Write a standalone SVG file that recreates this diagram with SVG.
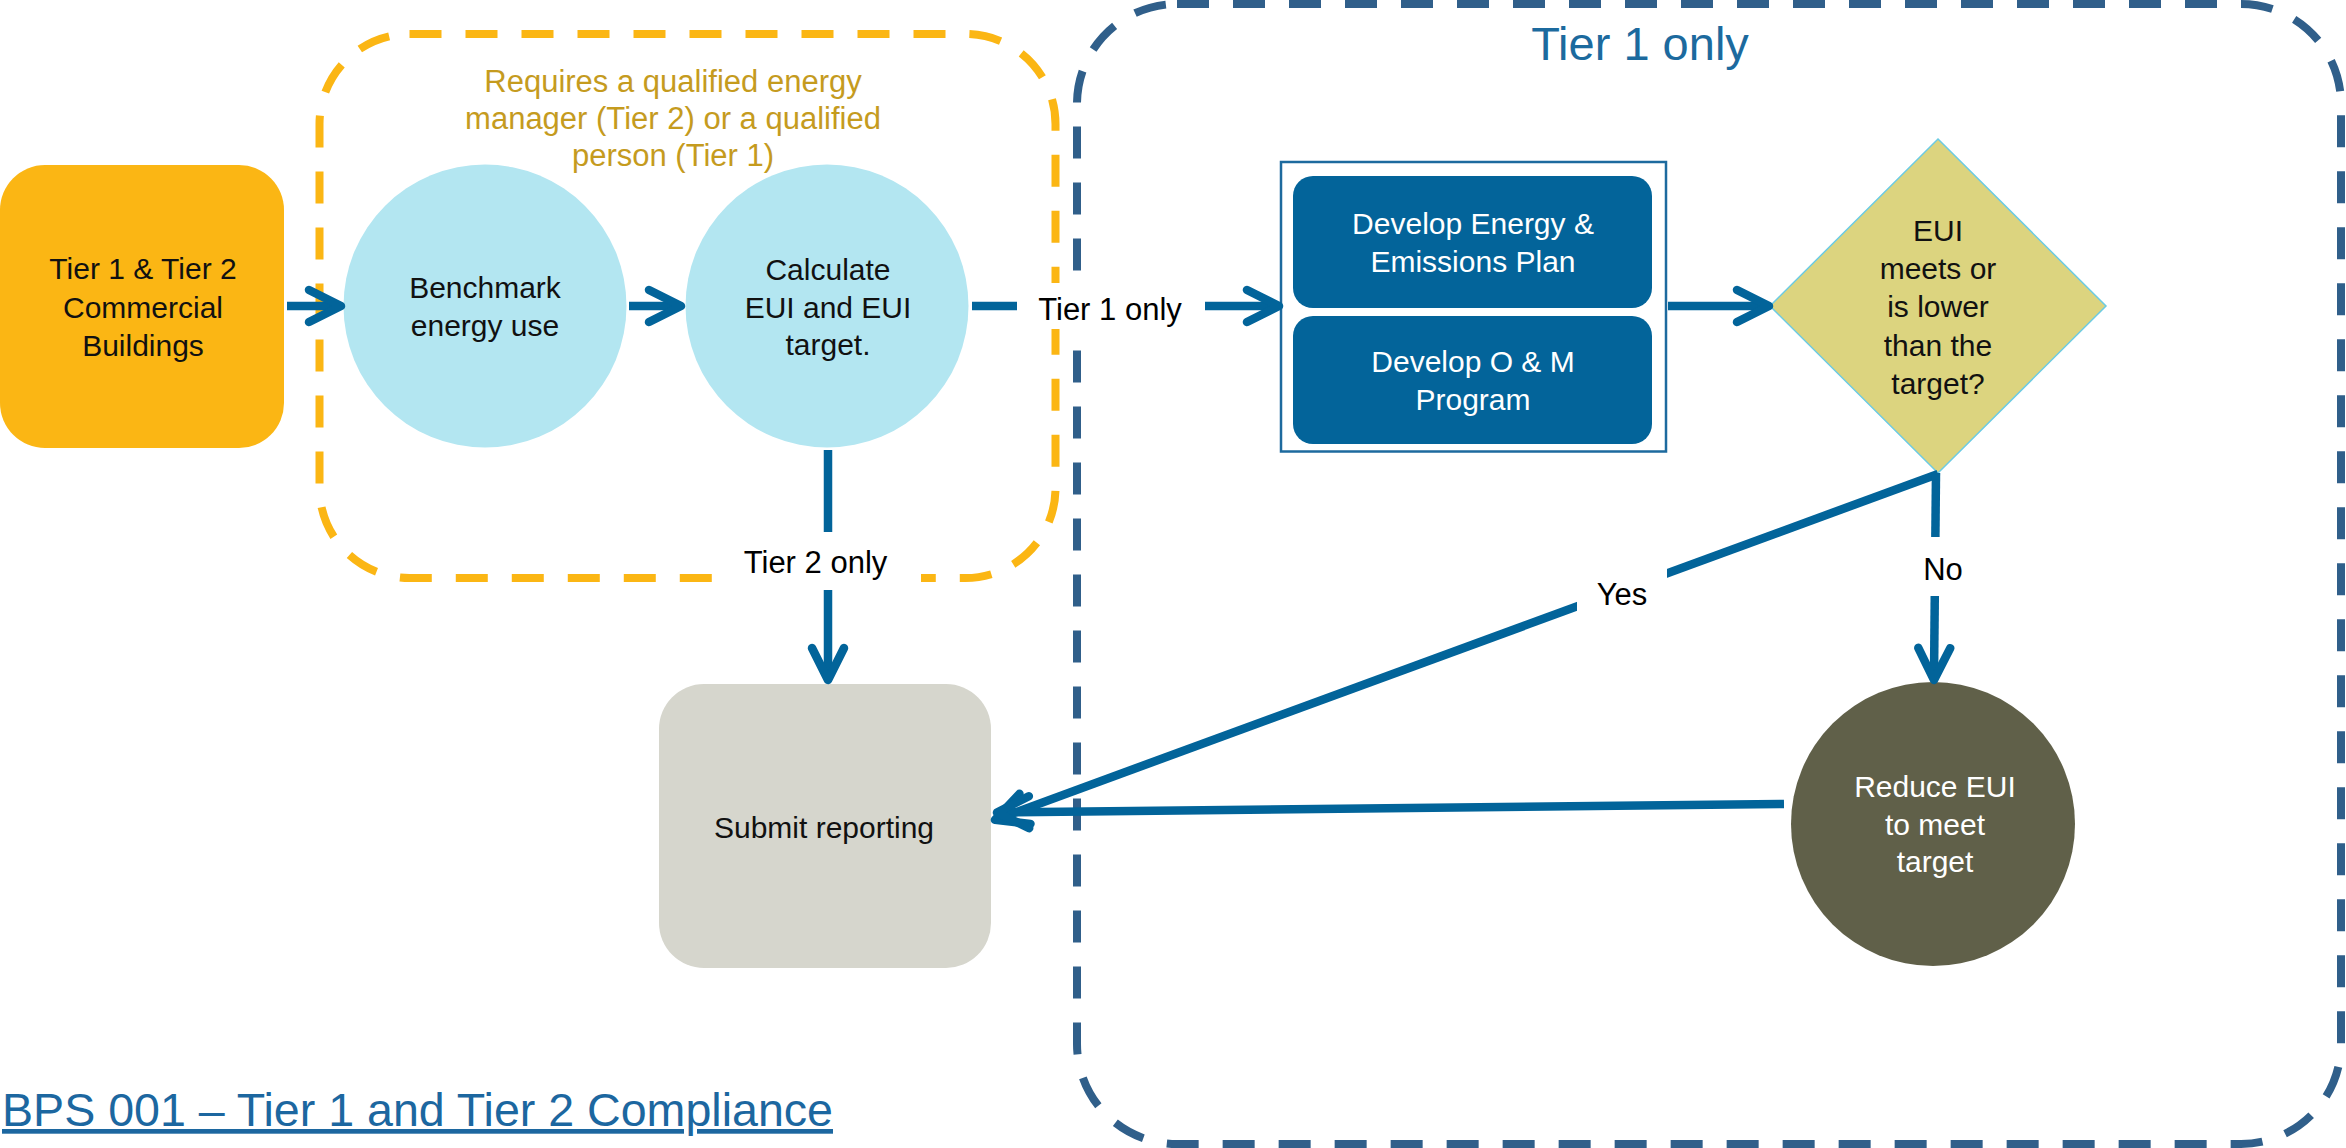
<svg xmlns="http://www.w3.org/2000/svg" width="2346" height="1148" viewBox="0 0 2346 1148">
  <style>
    text { font-family: "Liberation Sans", Arial, sans-serif; }
    .nt { font-size: 30px; text-anchor: middle; fill: #111111; }
    .wt { font-size: 30px; text-anchor: middle; fill: #FFFFFF; }
    .lbl { font-size: 31px; text-anchor: middle; fill: #000000; }
    .frame { fill: none; stroke-width: 8; stroke-dasharray: 32 24; }
    .conn { fill: none; stroke: #02649A; stroke-width: 8.5; marker-end: url(#arr); }
    .lblbg { fill: #FFFFFF; stroke: none; }
  </style>
  <defs>
    <marker id="arr" markerUnits="userSpaceOnUse" markerWidth="60" markerHeight="60" viewBox="-50 -30 60 60" refX="-4" refY="0" orient="auto" overflow="visible">
      <path d="M-32,-16 L0,0 L-32,16" fill="none" stroke="#02649A" stroke-width="8.5" stroke-linecap="round" stroke-linejoin="round"/>
    </marker>
  </defs>

  <rect width="2346" height="1148" fill="#FFFFFF"/>

  <!-- Containers -->
  <g id="qualified-frame">
    <rect class="frame" x="319.5" y="34" width="736" height="544" rx="90" ry="90" stroke="#FBB614"/>
    <text x="673" y="92" font-size="31" text-anchor="middle" fill="#C59B1E">Requires a qualified energy</text>
    <text x="673" y="129" font-size="31" text-anchor="middle" fill="#C59B1E">manager (Tier 2) or a qualified</text>
    <text x="673" y="166" font-size="31" text-anchor="middle" fill="#C59B1E">person (Tier 1)</text>
  </g>
  <g id="tier1-frame">
    <rect class="frame" x="1077" y="4" width="1264" height="1140" rx="100" ry="100" stroke="#305F8A"/>
    <text x="1640" y="60" font-size="47" text-anchor="middle" fill="#1C6A9E">Tier 1 only</text>
  </g>

  <!-- Nodes -->
  <g id="commercial-buildings">
    <rect x="0" y="165" width="284" height="283" rx="45" ry="45" fill="#FBB614"/>
    <text class="nt" x="143" y="279">Tier 1 &amp; Tier 2</text>
    <text class="nt" x="143" y="318">Commercial</text>
    <text class="nt" x="143" y="356">Buildings</text>
  </g>
  <g id="benchmark">
    <circle cx="485" cy="306" r="141.5" fill="#B3E6F1"/>
    <text class="nt" x="485" y="298">Benchmark</text>
    <text class="nt" x="485" y="336">energy use</text>
  </g>
  <g id="calculate">
    <circle cx="827" cy="306" r="141.5" fill="#B3E6F1"/>
    <text class="nt" x="828" y="280">Calculate</text>
    <text class="nt" x="828" y="318">EUI and EUI</text>
    <text class="nt" x="828" y="355">target.</text>
  </g>
  <g id="plan-group">
    <rect x="1281" y="162" width="385" height="289.5" fill="#FFFFFF" stroke="#1D6A9E" stroke-width="2.5"/>
  </g>
  <g id="energy-plan">
    <rect x="1293" y="176" width="359" height="132" rx="20" ry="20" fill="#03649A"/>
    <text class="wt" x="1473" y="234">Develop Energy &amp;</text>
    <text class="wt" x="1473" y="272">Emissions Plan</text>
  </g>
  <g id="om-program">
    <rect x="1293" y="316" width="359" height="128" rx="20" ry="20" fill="#03649A"/>
    <text class="wt" x="1473" y="372">Develop O &amp; M</text>
    <text class="wt" x="1473" y="410">Program</text>
  </g>
  <g id="eui-decision">
    <polygon points="1938,139 2106,306 1938,473 1770,306" fill="#DCD47F" stroke="#6CCBE3" stroke-width="1.5"/>
    <text class="nt" x="1938" y="241">EUI</text>
    <text class="nt" x="1938" y="279">meets or</text>
    <text class="nt" x="1938" y="317">is lower</text>
    <text class="nt" x="1938" y="356">than the</text>
    <text class="nt" x="1938" y="394">target?</text>
  </g>
  <g id="submit-reporting">
    <rect x="659" y="684" width="332" height="284" rx="45" ry="45" fill="#D6D6CD"/>
    <text class="nt" x="824" y="838">Submit reporting</text>
  </g>
  <g id="reduce-eui">
    <circle cx="1933" cy="824" r="142" fill="#606049"/>
    <text class="wt" x="1935" y="797">Reduce EUI</text>
    <text class="wt" x="1935" y="835">to meet</text>
    <text class="wt" x="1935" y="872">target</text>
  </g>

  <!-- Connectors -->
  <g id="connectors">
    <path class="conn" d="M287,306 H337"/>
    <path class="conn" d="M629,306 H677"/>
    <path class="conn" d="M972,306 H1275"/>
    <path class="conn" d="M1668,306 H1765"/>
    <path class="conn" d="M828,450 V676"/>
    <path class="conn" d="M1938,474 L998.7,818.5"/>
    <path class="conn" d="M1936,473 L1934,676"/>
    <path class="conn" d="M1784,804 L1001,812.5"/>
    <rect class="lblbg" x="1017" y="283" width="188" height="46"/>
    <text class="lbl" x="1110" y="320">Tier 1 only</text>
    <rect class="lblbg" x="721" y="532" width="200" height="58"/>
    <text class="lbl" x="815.5" y="573">Tier 2 only</text>
    <rect class="lblbg" x="1577" y="562" width="90" height="54"/>
    <text class="lbl" x="1622" y="605" font-size="30">Yes</text>
    <rect class="lblbg" x="1910" y="537" width="56" height="59"/>
    <text class="lbl" x="1943" y="580" font-size="30">No</text>
  </g>

  <!-- Title -->
  <g id="title">
    <text x="2" y="1126" font-size="47" fill="#1C67A0" text-decoration="underline" textLength="831" lengthAdjust="spacingAndGlyphs">BPS 001 – Tier 1 and Tier 2 Compliance</text>
  </g>
</svg>
